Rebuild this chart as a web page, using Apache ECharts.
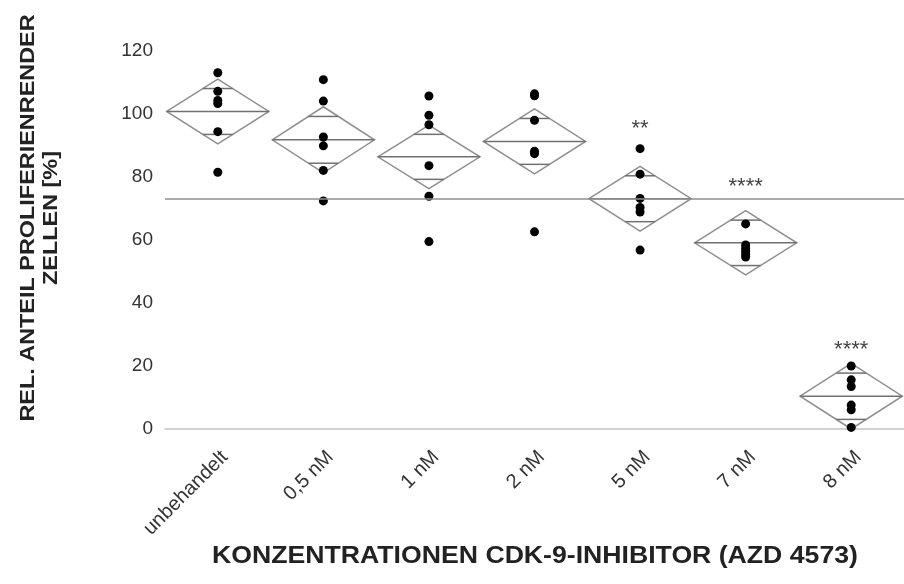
<!DOCTYPE html>
<html>
<head>
<meta charset="utf-8">
<script src="https://cdn.jsdelivr.net/npm/echarts@6/dist/echarts.min.js"></script>
<style>html,body{margin:0;padding:0;background:#fff}#c{width:904px;height:584px}</style>
</head>
<body>
<div id="c"></div>
<script>
const categories = ['unbehandelt', '0,5 nM', '1 nM', '2 nM', '5 nM', '7 nM', '8 nM'];
const points = [
  [113.1, 107.2, 104.3, 103.3, 94.4, 81.5],
  [110.9, 104.1, 92.7, 89.9, 82.1, 72.4],
  [105.7, 99.6, 96.6, 83.6, 73.9, 59.5],
  [106.4, 105.8, 98.0, 88.2, 87.4, 62.6],
  [89.0, 80.9, 73.2, 70.3, 68.9, 56.8],
  [65.1, 58.4, 57.4, 56.4, 55.4, 54.6],
  [20.0, 15.6, 13.5, 7.6, 6.1, 0.5]
];
const means = [100.8, 91.8, 86.4, 91.3, 73.1, 59.1, 10.4];
const ciHalf = [10.3, 10.5, 10.1, 10.3, 10.3, 10.2, 10.4];
const grandMean = 73.2;
const stars = ['', '', '', '', '**', '****', '****'];
const starY = [null, null, null, null, 95.1, 76.7, 25.2];
const yMin = 0, yMax = 120, yStep = 20;
const yTitle = 'REL. ANTEIL PROLIFERIENRENDER\nZELLEN [%]';
const xTitle = 'KONZENTRATIONEN CDK-9-INHIBITOR (AZD 4573)';

const scatterData = [];
points.forEach((arr, i) => arr.forEach(v => scatterData.push([i, v])));
const diamondData = means.map((m, i) => [i, m, ciHalf[i]]);
const starData = [];
stars.forEach((s, i) => { if (s) starData.push({ value: [i, starY[i]], name: s }); });

const chart = echarts.init(document.getElementById('c'), null, { renderer: 'canvas' });
const gray = '#8f8f8f';
chart.setOption({
  animation: false,
  backgroundColor: '#fff',
  textStyle: { fontFamily: 'Liberation Sans, Arial, sans-serif' },
  grid: { left: 165, width: 752.5, top: 51, height: 378, containLabel: false },
  xAxis: {
    type: 'category',
    data: categories,
    boundaryGap: true,
    axisLine: { show: true, lineStyle: { color: '#c4c4c4', width: 1.5 } },
    axisTick: { show: false },
    axisLabel: { rotate: 45, fontSize: 20, color: '#333', margin: 18, interval: 0, verticalAlign: 'top' },
    splitLine: { show: false }
  },
  yAxis: {
    type: 'value',
    min: yMin, max: yMax, interval: yStep,
    axisLine: { show: false },
    axisTick: { show: false },
    splitLine: { show: false },
    axisLabel: { fontSize: 19, color: '#333', margin: 12 }
  },
  series: [
    {
      type: 'custom',
      data: diamondData,
      clip: false,
      z: 2,
      renderItem: function (params, api) {
        const i = api.value(0), m = api.value(1), ci = api.value(2);
        const c = api.coord([i, m]);
        const top = api.coord([i, m + ci]);
        const bot = api.coord([i, m - ci]);
        const hw = api.size([1, 0])[0] * 0.484;
        const d = ci / Math.SQRT2;
        const up = api.coord([i, m + d]);
        const dn = api.coord([i, m - d]);
        const cw = hw * (1 - 1 / Math.SQRT2);
        const st = { stroke: gray, lineWidth: 1.5, fill: null };
        return {
          type: 'group',
          children: [
            { type: 'polygon', shape: { points: [[c[0] - hw, c[1]], [top[0], top[1]], [c[0] + hw, c[1]], [bot[0], bot[1]]] }, style: st },
            { type: 'line', shape: { x1: c[0] - hw, y1: c[1], x2: c[0] + hw, y2: c[1] }, style: { stroke: '#707070', lineWidth: 1.5 } },
            { type: 'line', shape: { x1: up[0] - cw, y1: up[1], x2: up[0] + cw, y2: up[1] }, style: { stroke: '#707070', lineWidth: 1.5 } },
            { type: 'line', shape: { x1: dn[0] - cw, y1: dn[1], x2: dn[0] + cw, y2: dn[1] }, style: { stroke: '#707070', lineWidth: 1.5 } }
          ]
        };
      },
      markLine: {
        silent: true,
        symbol: 'none',
        label: { show: false },
        lineStyle: { color: gray, width: 1.5, type: 'solid' },
        data: [{ yAxis: grandMean }]
      }
    },
    {
      type: 'scatter',
      data: scatterData,
      symbol: 'circle',
      symbolSize: 9,
      itemStyle: { color: '#000', opacity: 1 },
      z: 3
    },
    {
      type: 'scatter',
      data: starData,
      symbolSize: 0,
      z: 4,
      label: {
        show: true, position: 'inside',
        formatter: p => p.name,
        fontSize: 22, color: '#111'
      }
    }
  ],
  graphic: [
    {
      type: 'text',
      x: 40, y: 218, rotation: Math.PI / 2, scaleX: 1.115,
      style: { text: yTitle, font: 'bold 21px "Liberation Sans", Arial, sans-serif', fill: '#222', textAlign: 'center', textVerticalAlign: 'middle', lineHeight: 23 }
    },
    {
      type: 'text',
      x: 535, y: 556, scaleX: 1.11,
      style: { text: xTitle, font: 'bold 24px "Liberation Sans", Arial, sans-serif', fill: '#222', textAlign: 'center', textVerticalAlign: 'middle' }
    }
  ]
});
</script>
</body>
</html>
